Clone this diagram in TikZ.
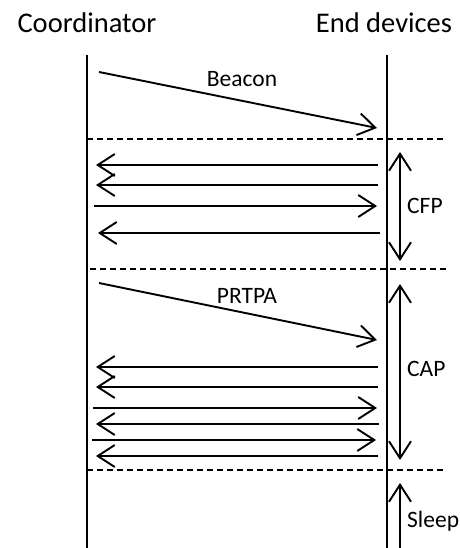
\documentclass[tikz,border=0pt]{standalone}
\usepackage{fontspec}
\setmainfont{Carlito}
\usetikzlibrary{arrows.meta}
\begin{document}
\begin{tikzpicture}[x=1pt,y=-1pt,
  tipv/.tip={Straight Barb[length=17pt,width=22pt,line width=1.9pt]},
  msg/.style={line width=1.9pt,-tipv},
  span/.style={line width=1.9pt,tipv-tipv},
  life/.style={line width=1.7pt},
  sep/.style={line width=1.1pt,dash pattern=on 6pt off 4pt},
  title/.style={font=\fontsize{28.5}{32}\selectfont,anchor=base,inner sep=0pt},
  lbl/.style={font=\fontsize{23.5}{27}\selectfont,anchor=base,inner sep=0pt},
  side/.style={font=\fontsize{23.5}{27}\selectfont,anchor=base west,inner sep=0pt}]
\useasboundingbox (0,0) rectangle (459,548);

% headings
\node[title] (coord) at (87,33) {Coordinator};
\node[title] (dev) at (384,33) {End devices};

% lifelines
\coordinate (cTop) at (87,55); \coordinate (cBot) at (87,548);
\coordinate (dTop) at (387,55); \coordinate (dBot) at (387,548);
\draw[life] (cTop) -- (cBot);
\draw[life] (dTop) -- (dBot);

% period boundaries
\coordinate (s1a) at (87,139); \coordinate (s1b) at (444,139);
\coordinate (s2a) at (90,269); \coordinate (s2b) at (447,269);
\coordinate (s3a) at (87,470); \coordinate (s3b) at (443,470);
\draw[sep] (s1a) -- (s1b);
\draw[sep] (s2a) -- (s2b);
\draw[sep] (s3a) -- (s3b);

% beacon
\coordinate (b0) at (99,72); \coordinate (b1) at (377,128);
\draw[msg] (b0) -- (b1);
\node[lbl] (beacon) at (242,87) {Beacon};

% contention-free period
\coordinate (f1r) at (378,165); \coordinate (f1l) at (96,165);
\coordinate (f2r) at (378,185); \coordinate (f2l) at (96,185);
\coordinate (f3l) at (94,206);  \coordinate (f3r) at (377,206);
\coordinate (f4r) at (380,233); \coordinate (f4l) at (98,233);
\draw[msg] (f1r) -- (f1l);
\draw[msg] (f2r) -- (f2l);
\draw[msg] (f3l) -- (f3r);
\draw[msg] (f4r) -- (f4l);
\coordinate (cfpT) at (400,152); \coordinate (cfpB) at (400,261);
\draw[span] (cfpT) -- (cfpB);
\node[side] (cfp) at (407,213) {CFP};

% PRTPA
\coordinate (p0) at (99,283); \coordinate (p1) at (377,340);
\draw[msg] (p0) -- (p1);
\node[lbl] (prtpa) at (247,303) {PRTPA};

% contention access period
\coordinate (a1r) at (378,367); \coordinate (a1l) at (96,367);
\coordinate (a2r) at (378,387); \coordinate (a2l) at (96,387);
\coordinate (a3l) at (93,408);  \coordinate (a3r) at (377,408);
\coordinate (a4r) at (379,424); \coordinate (a4l) at (96,424);
\coordinate (a5l) at (92,440);  \coordinate (a5r) at (376,440);
\coordinate (a6r) at (378,456); \coordinate (a6l) at (96,456);
\draw[msg] (a1r) -- (a1l);
\draw[msg] (a2r) -- (a2l);
\draw[msg] (a3l) -- (a3r);
\draw[msg] (a4r) -- (a4l);
\draw[msg] (a5l) -- (a5r);
\draw[msg] (a6r) -- (a6l);
\coordinate (capT) at (400,284); \coordinate (capB) at (400,460);
\draw[span] (capT) -- (capB);
\node[side] (cap) at (407,376) {CAP};

% sleep
\coordinate (slB) at (400,548); \coordinate (slT) at (400,483);
\draw[msg] (slB) -- (slT);
\node[side] (sleep) at (407,527) {Sleep};
\end{tikzpicture}
\end{document}
